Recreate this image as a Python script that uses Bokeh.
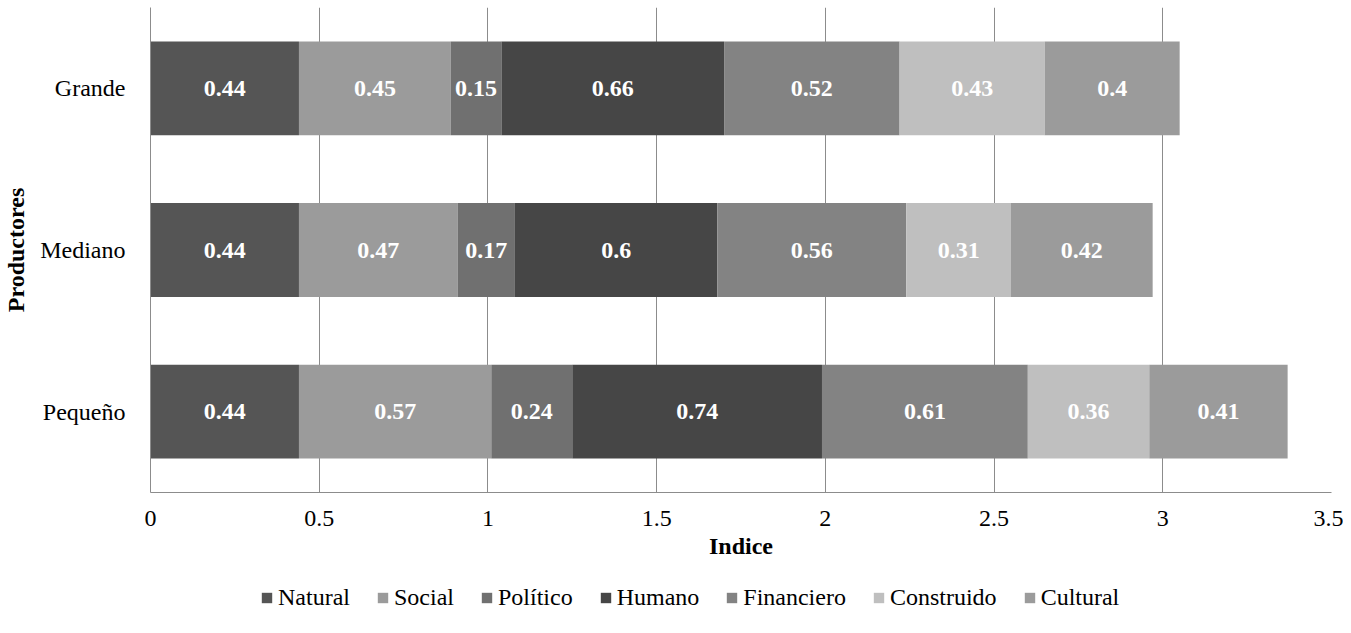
import numpy as np
from bokeh.plotting import figure
from bokeh.layouts import column
from bokeh.models import ColumnDataSource, Legend, LegendItem, FixedTicker, Range1d
from bokeh.core.properties import value
from bokeh.embed import file_html
from bokeh.resources import INLINE

productores = ["Pequeño", "Mediano", "Grande"]
capitales = ["Natural", "Social", "Político", "Humano", "Financiero", "Construido", "Cultural"]
natural = [0.44, 0.44, 0.44]
social = [0.57, 0.47, 0.45]
politico = [0.24, 0.17, 0.15]
humano = [0.74, 0.60, 0.66]
financiero = [0.61, 0.56, 0.52]
construido = [0.36, 0.31, 0.43]
cultural = [0.41, 0.42, 0.40]
x_ticks = [0, 0.5, 1, 1.5, 2, 2.5, 3, 3.5]
x_tick_labels = ["0", "0.5", "1", "1.5", "2", "2.5", "3", "3.5"]

colors = ["#555555", "#9b9b9b", "#707070", "#464646", "#838383", "#bfbfbf", "#9b9b9b"]
series = [natural, social, politico, humano, financiero, construido, cultural]

FONT = "Liberation Serif"

data = {"y": productores}
for name, vals in zip(capitales, series):
    data[name] = vals
source = ColumnDataSource(data)

p = figure(frame_width=1181, frame_height=485, y_range=productores, x_range=(0, 3.5),
           output_backend="svg", toolbar_location=None,
           min_border_left=142, min_border_top=7, min_border_right=12, min_border_bottom=91)
p.outline_line_color = None

p.hbar_stack(capitales, y="y", height=0.58, color=colors, source=source, line_color=None)

# labels
arr = np.array(series)
cum = np.cumsum(arr, axis=0)
starts = cum - arr
lx, ly, lt = [], [], []
for i in range(len(capitales)):
    for j in range(len(productores)):
        lx.append((starts[i, j] + cum[i, j]) / 2)
        ly.append(productores[j])
        lt.append(f"{arr[i, j]:g}")
lsrc = ColumnDataSource(dict(x=lx, y=ly, t=lt))
p.text(x="x", y="y", text="t", source=lsrc, text_align="center", text_baseline="middle",
       text_color="white", text_font=value(FONT), text_font_style="bold",
       text_font_size="24px")

# axes
p.xaxis.ticker = FixedTicker(ticks=x_ticks)
p.xaxis.major_label_overrides = {t: l for t, l in zip(x_ticks, x_tick_labels)}
p.xaxis.axis_label = "Indice"
p.yaxis.axis_label = "Productores"
for ax in (p.xaxis[0], p.yaxis[0]):
    ax.axis_label_text_font = FONT
    ax.axis_label_text_font_style = "bold"
    ax.axis_label_text_font_size = "24px"
    ax.axis_label_text_color = "black"
    ax.major_label_text_font = FONT
    ax.major_label_text_font_size = "24px"
    ax.major_label_text_color = "black"
    ax.major_tick_line_color = None
    ax.minor_tick_line_color = None
    ax.axis_line_color = "#8c8c8c"
    ax.axis_line_width = 1
p.xaxis.major_label_standoff = 12
p.xaxis.axis_label_standoff = 4
p.yaxis.major_label_standoff = 19
p.yaxis.axis_label_standoff = 8

p.ygrid.grid_line_color = None
p.xgrid.grid_line_color = "#8c8c8c"
p.xgrid.grid_line_width = 1

# legend strip (hidden proxy bars carry the legend swatches)
pl = figure(width=1335, height=34, y_range=productores, x_range=Range1d(0, 3.5),
            output_backend="svg", toolbar_location=None, min_border=0)
pl.axis.visible = False
pl.grid.visible = False
pl.outline_line_color = None
proxies = pl.hbar_stack(capitales, y="y", height=0.58, color=colors, source=source,
                        line_color=None)
for r in proxies:
    r.visible = False
items = [LegendItem(label=n, renderers=[r]) for n, r in zip(capitales, proxies)]
legend = Legend(items=items, orientation="horizontal", location=(110, 6),
                label_text_font=FONT, label_text_font_size="24px", label_text_color="black",
                glyph_width=13, glyph_height=13, label_standoff=5, spacing=26,
                border_line_color=None, background_fill_alpha=0, padding=0, margin=0,
                label_height=24, click_policy="none")
pl.add_layout(legend, "center")

layout = column(p, pl, spacing=0)
open("out.html", "w").write(file_html(layout, INLINE))
